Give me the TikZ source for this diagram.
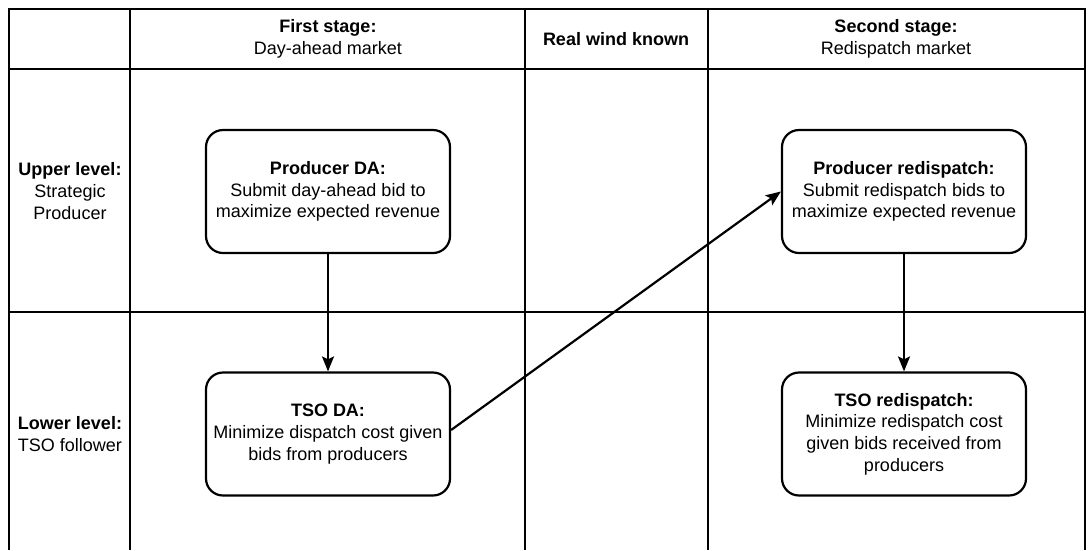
\documentclass[tikz,border=0pt]{standalone}
\usepackage{fontspec}
\setmainfont{Liberation Sans}
\usetikzlibrary{positioning}
\usetikzlibrary{arrows.meta}

\tikzset{
 stagebox/.style={draw,line width=2.2pt,rounded corners=17pt,minimum width=244pt,minimum height=123pt,align=center,font=\fontsize{18}{21.7}\selectfont},
 celltext/.style={align=center,font=\fontsize{18}{21.7}\selectfont},
 flow/.style={-{Stealth[length=15pt,width=12pt,inset=3pt]},line width=2.2pt}
}

\begin{document}
\begin{tikzpicture}[x=1pt,y=-1pt]
 \useasboundingbox (0,0) rectangle (1091,550);
 \draw[line width=2.2pt](9,550)--(9,9)--(1085,9)--(1085,550);
 \draw[line width=2.2pt](130,9)--(130,550);
 \draw[line width=2.2pt](525,9)--(525,550);
 \draw[line width=2.2pt](708,9)--(708,550);
 \draw[line width=2.2pt](9,69)--(1085,69);
 \draw[line width=2.2pt](9,312)--(1085,312);
 \node[celltext](fst) at (328,39) {\textbf{First stage:}\\Day-ahead market};
 \node[celltext](rwk) at (616,39) {\textbf{Real wind known}};
 \node[celltext](snd) at (896,39) {\textbf{Second stage:}\\Redispatch market};
 \node[celltext](upr) at (70,191) {\textbf{Upper level:}\\Strategic\\Producer};
 \node[celltext](lwr) at (70,434) {\textbf{Lower level:}\\TSO follower};
 \node[stagebox](pda) at (328,191.5) {\textbf{Producer DA:}\\Submit day-ahead bid to\\maximize expected revenue};
 \node[stagebox](tda) at (328,434) {\textbf{TSO DA:}\\Minimize dispatch cost given\\bids from producers};
 \node[stagebox](prd) at (904,191.5) {\textbf{Producer redispatch:}\\Submit redispatch bids to\\maximize expected revenue};
 \node[stagebox](trd) at (904,434) {\textbf{TSO redispatch:}\\Minimize redispatch cost\\given bids received from\\producers};
 \draw[flow](pda)--(tda);
 \draw[flow](prd)--(trd);
 \draw[flow]([yshift=4pt]tda.east)--(prd.west);
\end{tikzpicture}
\end{document}
